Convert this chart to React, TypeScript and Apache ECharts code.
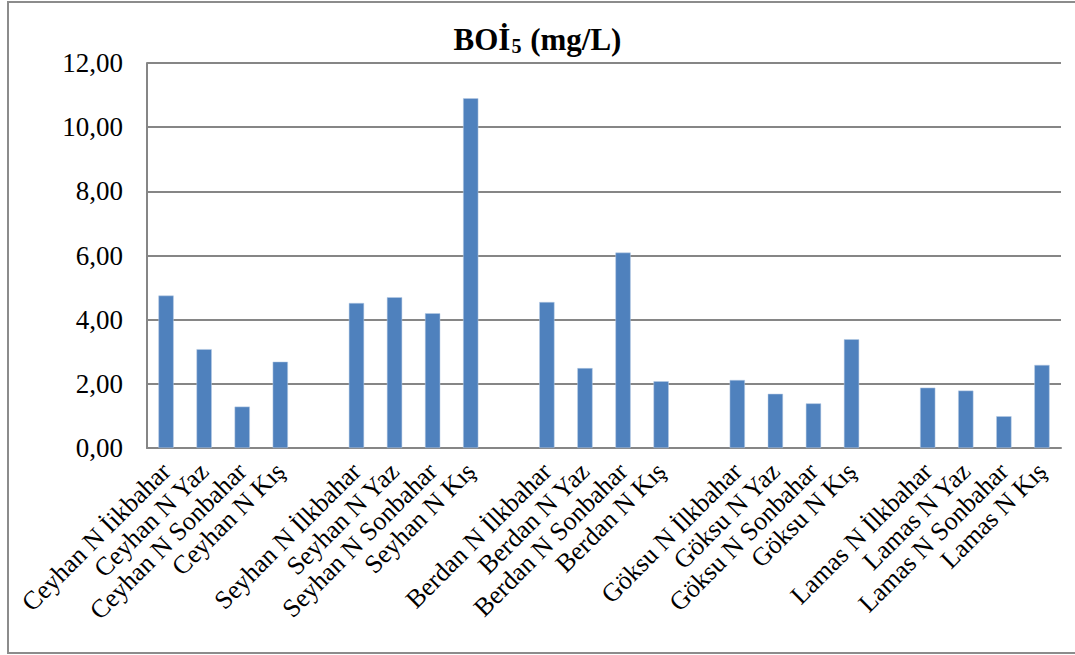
import React, { useEffect, useRef } from "react";
import * as echarts from "echarts";

const categories: string[] = [
  "Ceyhan N İikbahar", "Ceyhan N Yaz", "Ceyhan N Sonbahar", "Ceyhan N Kış", "",
  "Seyhan N İlkbahar", "Seyhan N Yaz", "Seyhan N Sonbahar", "Seyhan N Kış", "",
  "Berdan N İlkbahar", "Berdan N Yaz", "Berdan N Sonbahar", "Berdan N Kış", "",
  "Göksu N İlkbahar", "Göksu N Yaz", "Göksu N Sonbahar", "Göksu N Kış", "",
  "Lamas N İlkbahar", "Lamas N Yaz", "Lamas N Sonbahar", "Lamas N Kış",
];

const values: (number | string)[] = [
  4.75, 3.08, 1.29, 2.69, "-",
  4.52, 4.70, 4.20, 10.90, "-",
  4.55, 2.49, 6.09, 2.08, "-",
  2.12, 1.69, 1.39, 3.39, "-",
  1.88, 1.79, 0.99, 2.59,
];

const yTicks = { min: 0, max: 12, interval: 2 };

const FONT = "'Liberation Serif', 'Times New Roman', serif";

export default function App() {
  const ref = useRef<HTMLDivElement>(null);
  useEffect(() => {
    if (!ref.current) return;
    const chart = echarts.init(ref.current, undefined, { renderer: "svg" });
    chart.setOption({
      animation: false,
      backgroundColor: "#ffffff",
      title: {
        text: "{a|BOİ}{b|5}{a| (mg/L)}",
        left: "center",
        top: 17,
        textStyle: {
          rich: {
            a: { fontFamily: FONT, fontSize: 31, fontWeight: "bold", color: "#000" },
            b: { fontFamily: FONT, fontSize: 20, fontWeight: "bold", color: "#000", padding: [14, 1, 0, 1] },
          },
        },
      },
      graphic: [
        {
          type: "rect",
          shape: { x: 8, y: 2, width: 1080, height: 651 },
          style: { fill: "none", stroke: "#8c8c8c", lineWidth: 2 },
          silent: true,
        },
      ],
      grid: { left: 147, right: 14, top: 63, bottom: 207, containLabel: false },
      xAxis: {
        type: "category",
        data: categories,
        axisLine: { show: true, lineStyle: { color: "#868686", width: 2 } },
        axisTick: { show: false },
        axisLabel: {
          interval: 0,
          rotate: 45,
          margin: 19,
          fontFamily: FONT,
          fontSize: 26,
          color: "#000",
        },
      },
      yAxis: {
        type: "value",
        min: yTicks.min,
        max: yTicks.max,
        interval: yTicks.interval,
        axisLine: { show: true, lineStyle: { color: "#868686", width: 2 } },
        axisTick: { show: false },
        splitLine: { show: true, lineStyle: { color: "#868686", width: 2 } },
        axisLabel: {
          margin: 24,
          fontFamily: FONT,
          fontSize: 27,
          color: "#000",
          formatter: (v: number) => v.toFixed(2).replace(".", ","),
        },
      },
      series: [
        {
          type: "bar",
          data: values,
          barWidth: "40%",
          itemStyle: { color: "#4F81BD", borderColor: "#B9CDE5", borderWidth: 0.5 },
        },
      ],
    });
    return () => chart.dispose();
  }, []);
  return (
    <div
      ref={ref}
      style={{ position: "absolute", left: 0, top: 0, width: 1075, height: 655 }}
    />
  );
}
